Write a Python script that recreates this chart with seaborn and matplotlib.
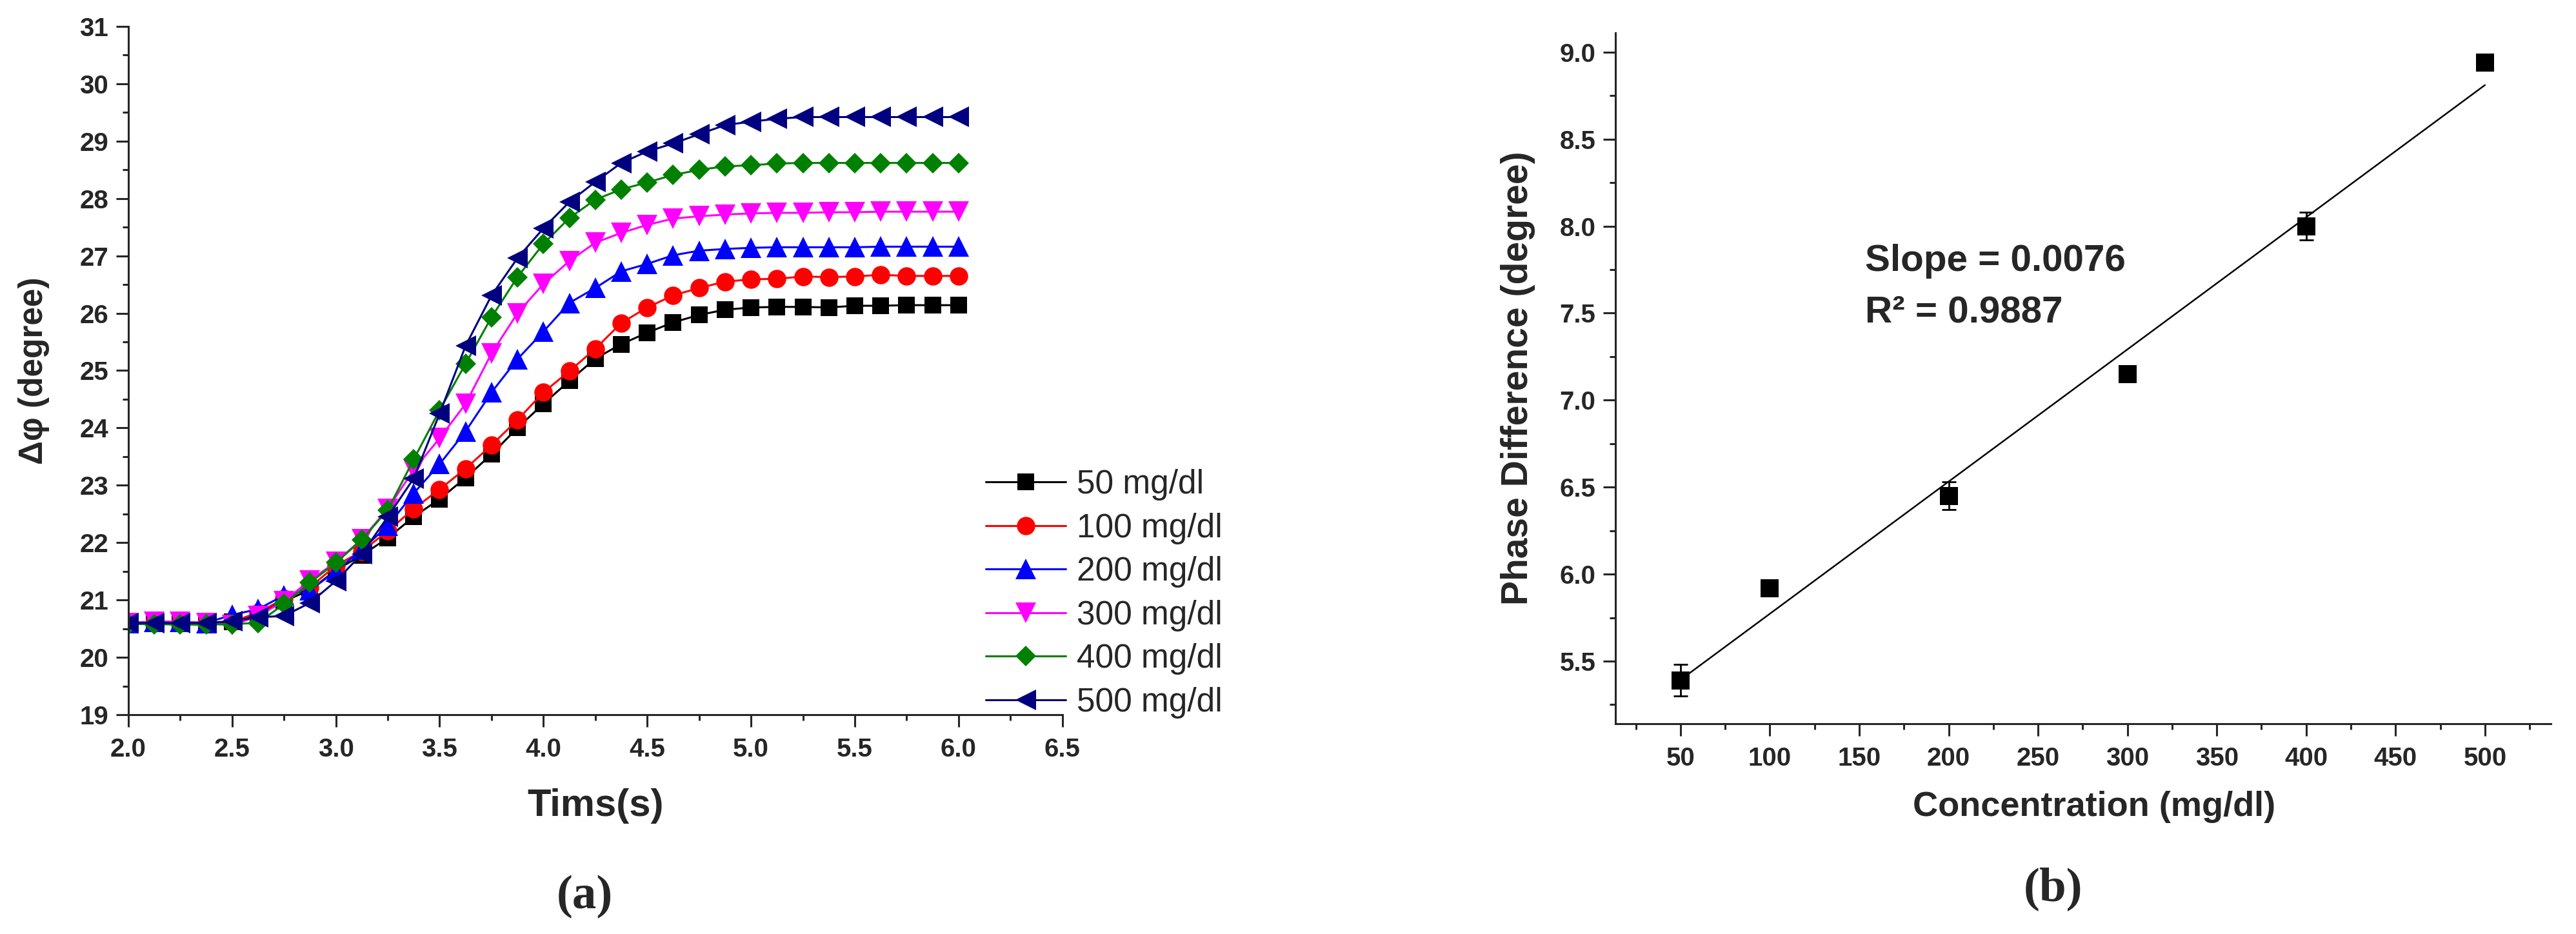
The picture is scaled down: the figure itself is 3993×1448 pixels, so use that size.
import numpy as np
import pandas as pd
import seaborn as sns
import matplotlib.pyplot as plt
from matplotlib.ticker import MultipleLocator

sns.set_style("ticks")
plt.rcParams['font.family'] = ['Liberation Sans', 'DejaVu Sans']
plt.rcParams['font.weight'] = 'bold'

# ---- panel (a): phase shift vs time ----
time_s = [2.0, 2.125, 2.25, 2.375, 2.5, 2.625, 2.75, 2.875, 3.0, 3.125, 3.25,
          3.375, 3.5, 3.625, 3.75, 3.875, 4.0, 4.125, 4.25, 4.375, 4.5, 4.625,
          4.75, 4.875, 5.0, 5.125, 5.25, 5.375, 5.5, 5.625, 5.75, 5.875, 6.0]

phi_50 = [20.60, 20.60, 20.60, 20.60, 20.62, 20.76, 20.98, 21.17, 21.52, 21.78, 22.08,
          22.45, 22.76, 23.13, 23.54, 24.00, 24.42, 24.82, 25.21, 25.46, 25.66, 25.84,
          25.97, 26.06, 26.10, 26.11, 26.11, 26.10, 26.13, 26.13, 26.14, 26.14, 26.14]
phi_100 = [20.60, 20.60, 20.60, 20.60, 20.62, 20.78, 21.02, 21.22, 21.60, 21.85, 22.20,
           22.59, 22.93, 23.29, 23.70, 24.14, 24.62, 24.99, 25.38, 25.83, 26.10, 26.31,
           26.44, 26.55, 26.59, 26.60, 26.64, 26.63, 26.64, 26.67, 26.65, 26.65, 26.65]
phi_200 = [20.60, 20.62, 20.62, 20.60, 20.74, 20.84, 21.08, 21.17, 21.50, 21.88, 22.29,
           22.86, 23.37, 23.94, 24.62, 25.20, 25.68, 26.18, 26.44, 26.73, 26.86, 27.01,
           27.09, 27.12, 27.14, 27.15, 27.15, 27.15, 27.15, 27.16, 27.16, 27.16, 27.16]
phi_300 = [20.60, 20.62, 20.62, 20.60, 20.56, 20.72, 20.98, 21.34, 21.66, 22.06, 22.59,
           23.27, 23.82, 24.42, 25.30, 26.00, 26.51, 26.91, 27.23, 27.40, 27.54, 27.65,
           27.69, 27.72, 27.74, 27.75, 27.75, 27.76, 27.76, 27.77, 27.77, 27.77, 27.77]
phi_400 = [20.58, 20.58, 20.57, 20.57, 20.58, 20.60, 20.93, 21.30, 21.65, 22.05, 22.57,
           23.45, 24.31, 25.12, 25.93, 26.63, 27.21, 27.66, 27.98, 28.16, 28.28, 28.41,
           28.50, 28.56, 28.58, 28.61, 28.62, 28.62, 28.62, 28.62, 28.62, 28.62, 28.62]
phi_500 = [20.60, 20.60, 20.60, 20.60, 20.63, 20.70, 20.72, 20.95, 21.33, 21.80, 22.45,
           23.12, 24.25, 25.43, 26.31, 26.96, 27.48, 27.94, 28.29, 28.62, 28.82, 28.96,
           29.12, 29.28, 29.34, 29.39, 29.42, 29.42, 29.42, 29.42, 29.42, 29.42, 29.42]

series_labels = ['50 mg/dl', '100 mg/dl', '200 mg/dl', '300 mg/dl', '400 mg/dl', '500 mg/dl']
series_values = [phi_50, phi_100, phi_200, phi_300, phi_400, phi_500]
series_colors = ['#000000', '#FF0000', '#0000FF', '#FF00FF', '#008000', '#000080']
series_markers = ['s', 'o', '^', 'v', 'D', '<']
marker_sizes = [18.5, 20.5, 23.5, 23.5, 16.5, 23.5]

# ---- panel (b): calibration ----
conc = [50, 100, 200, 300, 400, 500]
phase_diff = [5.39, 5.92, 6.45, 7.15, 8.00, 8.94]
phase_err = [0.09, 0.04, 0.08, 0.04, 0.08, 0.03]

fig = plt.figure(figsize=(39.93, 14.48), dpi=100)
ax1 = fig.add_axes([0.0498, 0.2348, 0.3626, 0.7369])
ax2 = fig.add_axes([0.6271, 0.2251, 0.3631, 0.7396])

for lab, vals, col, mk, ms in zip(series_labels, series_values, series_colors,
                                  series_markers, marker_sizes):
    df = pd.DataFrame({'t': time_s, 'phi': vals})
    sns.lineplot(data=df, x='t', y='phi', ax=ax1, color=col, marker=mk,
                 markersize=ms, markeredgewidth=0, linewidth=2.2,
                 label=lab, errorbar=None)

ax1.set_xlim(2.0, 6.5)
ax1.set_ylim(19, 31)
ax1.xaxis.set_major_locator(MultipleLocator(0.5))
ax1.xaxis.set_minor_locator(MultipleLocator(0.25))
ax1.yaxis.set_major_locator(MultipleLocator(1))
ax1.yaxis.set_minor_locator(MultipleLocator(0.5))
ax1.xaxis.set_major_formatter(plt.FormatStrFormatter('%.1f'))
ax1.set_xlabel('Tims(s)', fontsize=43, fontweight='bold', va='top')
ax1.set_ylabel('\u0394\u03c6 (degree)', fontsize=37, fontweight='bold')
ax1.xaxis.set_label_coords(0.5, -0.107)
ax1.yaxis.set_label_coords(-0.0843, 0.5)

ax1.legend(loc='upper left', bbox_to_anchor=(0.9178, 0.357), frameon=False,
           prop={'size': 37, 'weight': 'normal'}, handlelength=2.42,
           handletextpad=0.32, labelspacing=0.36, borderpad=0, borderaxespad=0)

# panel (b)
dfb = pd.DataFrame({'conc': conc, 'phase': phase_diff})
ax2.errorbar(conc, phase_diff, yerr=phase_err, fmt='none', ecolor='black',
             elinewidth=2, capsize=8, capthick=2, zorder=2)
sns.regplot(data=dfb, x='conc', y='phase', ax=ax2, ci=None, marker='s',
            scatter_kws={'s': 420, 'color': 'black', 'linewidths': 0, 'alpha': 1, 'zorder': 3},
            line_kws={'color': 'black', 'linewidth': 1.8, 'zorder': 1})

ax2.set_xlim(13.6, 536.8)
ax2.set_ylim(5.14, 9.11)
ax2.xaxis.set_major_locator(MultipleLocator(50))
ax2.xaxis.set_minor_locator(MultipleLocator(25))
ax2.yaxis.set_major_locator(MultipleLocator(0.5))
ax2.yaxis.set_minor_locator(MultipleLocator(0.25))
ax2.yaxis.set_major_formatter(plt.FormatStrFormatter('%.1f'))
ax2.set_xlabel('Concentration (mg/dl)', fontsize=39, fontweight='bold', va='top')
ax2.set_ylabel('Phase Difference (degree)', fontsize=41, fontweight='bold')
ax2.xaxis.set_label_coords(0.5117, -0.097)
ax2.yaxis.set_label_coords(-0.0855, 0.5)

ax2.text(153.2, 7.743, 'Slope = 0.0076', fontsize=42, fontweight='bold', va='baseline')
ax2.text(153.2, 7.449, 'R\u00b2 = 0.9887', fontsize=42, fontweight='bold', va='baseline')

for ax in (ax1, ax2):
    sns.despine(ax=ax)
    for sp in ('left', 'bottom'):
        ax.spines[sp].set_linewidth(2.2)
    ax.tick_params(which='major', direction='out', length=14, width=2.2,
                   labelsize=29, pad=11)
    ax.tick_params(which='minor', direction='out', length=6.5, width=2.2)
    ax.tick_params(axis='y', which='major', pad=8)

fig.text(906 / 3993, 1 - 1390 / 1448, '(a)', fontsize=54, fontweight='bold',
         family='Liberation Serif', ha='center', va='center')
fig.text(3182 / 3993, 1 - 1378 / 1448, '(b)', fontsize=54, fontweight='bold',
         family='Liberation Serif', ha='center', va='center')

# make sure every tick label is drawn bold
fig.canvas.draw()
for ax in (ax1, ax2):
    for lbl in ax.get_xticklabels() + ax.get_yticklabels():
        lbl.set_fontweight('bold')

fig.savefig('out.png', dpi=100)
